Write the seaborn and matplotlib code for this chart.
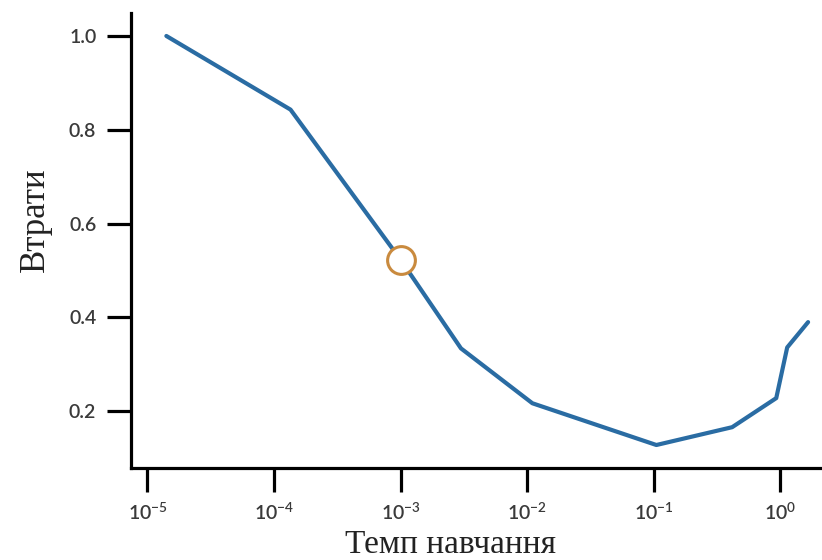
import matplotlib
matplotlib.use("Agg")
import matplotlib.pyplot as plt
import matplotlib.ticker as mticker
import pandas as pd
import seaborn as sns

# Значення
learning_rate = [1.41e-5, 1.35e-4, 1.0e-3, 3.0e-3, 1.1e-2, 1.05e-1, 4.17e-1, 9.3e-1, 1.135, 1.66]
loss = [1.0, 0.843, 0.523, 0.334, 0.217, 0.128, 0.166, 0.228, 0.336, 0.39]
best_lr = [1.0e-3]
best_loss = [0.523]
x_ticks = [1e-5, 1e-4, 1e-3, 1e-2, 1e-1, 1e0]
y_ticks = [0.2, 0.4, 0.6, 0.8, 1.0]

df = pd.DataFrame({"lr": learning_rate, "loss": loss})

sns.set_theme(style="ticks")
plt.rcParams["font.family"] = ["Lato", "DejaVu Sans"]
plt.rcParams["mathtext.default"] = "regular"

fig = plt.figure(figsize=(8.22, 5.60), dpi=100)
ax = fig.add_axes([0.1594, 0.1643, 0.8406, 0.8125])

sns.lineplot(data=df, x="lr", y="loss", ax=ax, color="#2a6ca3", linewidth=3.0)
ax.plot(best_lr, best_loss, marker="o", markersize=20, markerfacecolor="white",
        markeredgecolor="#c98a3e", markeredgewidth=2.2, linestyle="none", zorder=5)

ax.set_xscale("log")
ax.set_xlim(10 ** -5.13, 10 ** 0.33)
ax.set_ylim(0.079, 1.049)
ax.set_xticks(x_ticks)
ax.xaxis.set_minor_locator(mticker.NullLocator())
ax.set_yticks(y_ticks)
ax.yaxis.set_major_formatter(mticker.FormatStrFormatter("%.1f"))

sns.despine(ax=ax)
for side in ("left", "bottom"):
    ax.spines[side].set_linewidth(2.3)
    ax.spines[side].set_color("black")
ax.tick_params(axis="both", length=17, width=2.3, color="black",
               labelsize=14, labelcolor="#3a3a3a")
ax.tick_params(axis="x", pad=7)
ax.tick_params(axis="y", pad=8)
for lbl in ax.get_xticklabels() + ax.get_yticklabels():
    lbl.set_fontweight("semibold")

serif = ["Liberation Serif", "DejaVu Serif"]
ax.set_xlabel("Темп навчання", family=serif, fontsize=24, color="#222222")
ax.set_ylabel("Втрати", family=serif, fontsize=25, color="#222222")
ax.xaxis.set_label_coords(0.462, -0.168)
ax.yaxis.set_label_coords(-0.139, 0.545)
ax.xaxis.label.set_verticalalignment("center")
ax.yaxis.label.set_verticalalignment("center")

fig.savefig("out.png", dpi=100)
